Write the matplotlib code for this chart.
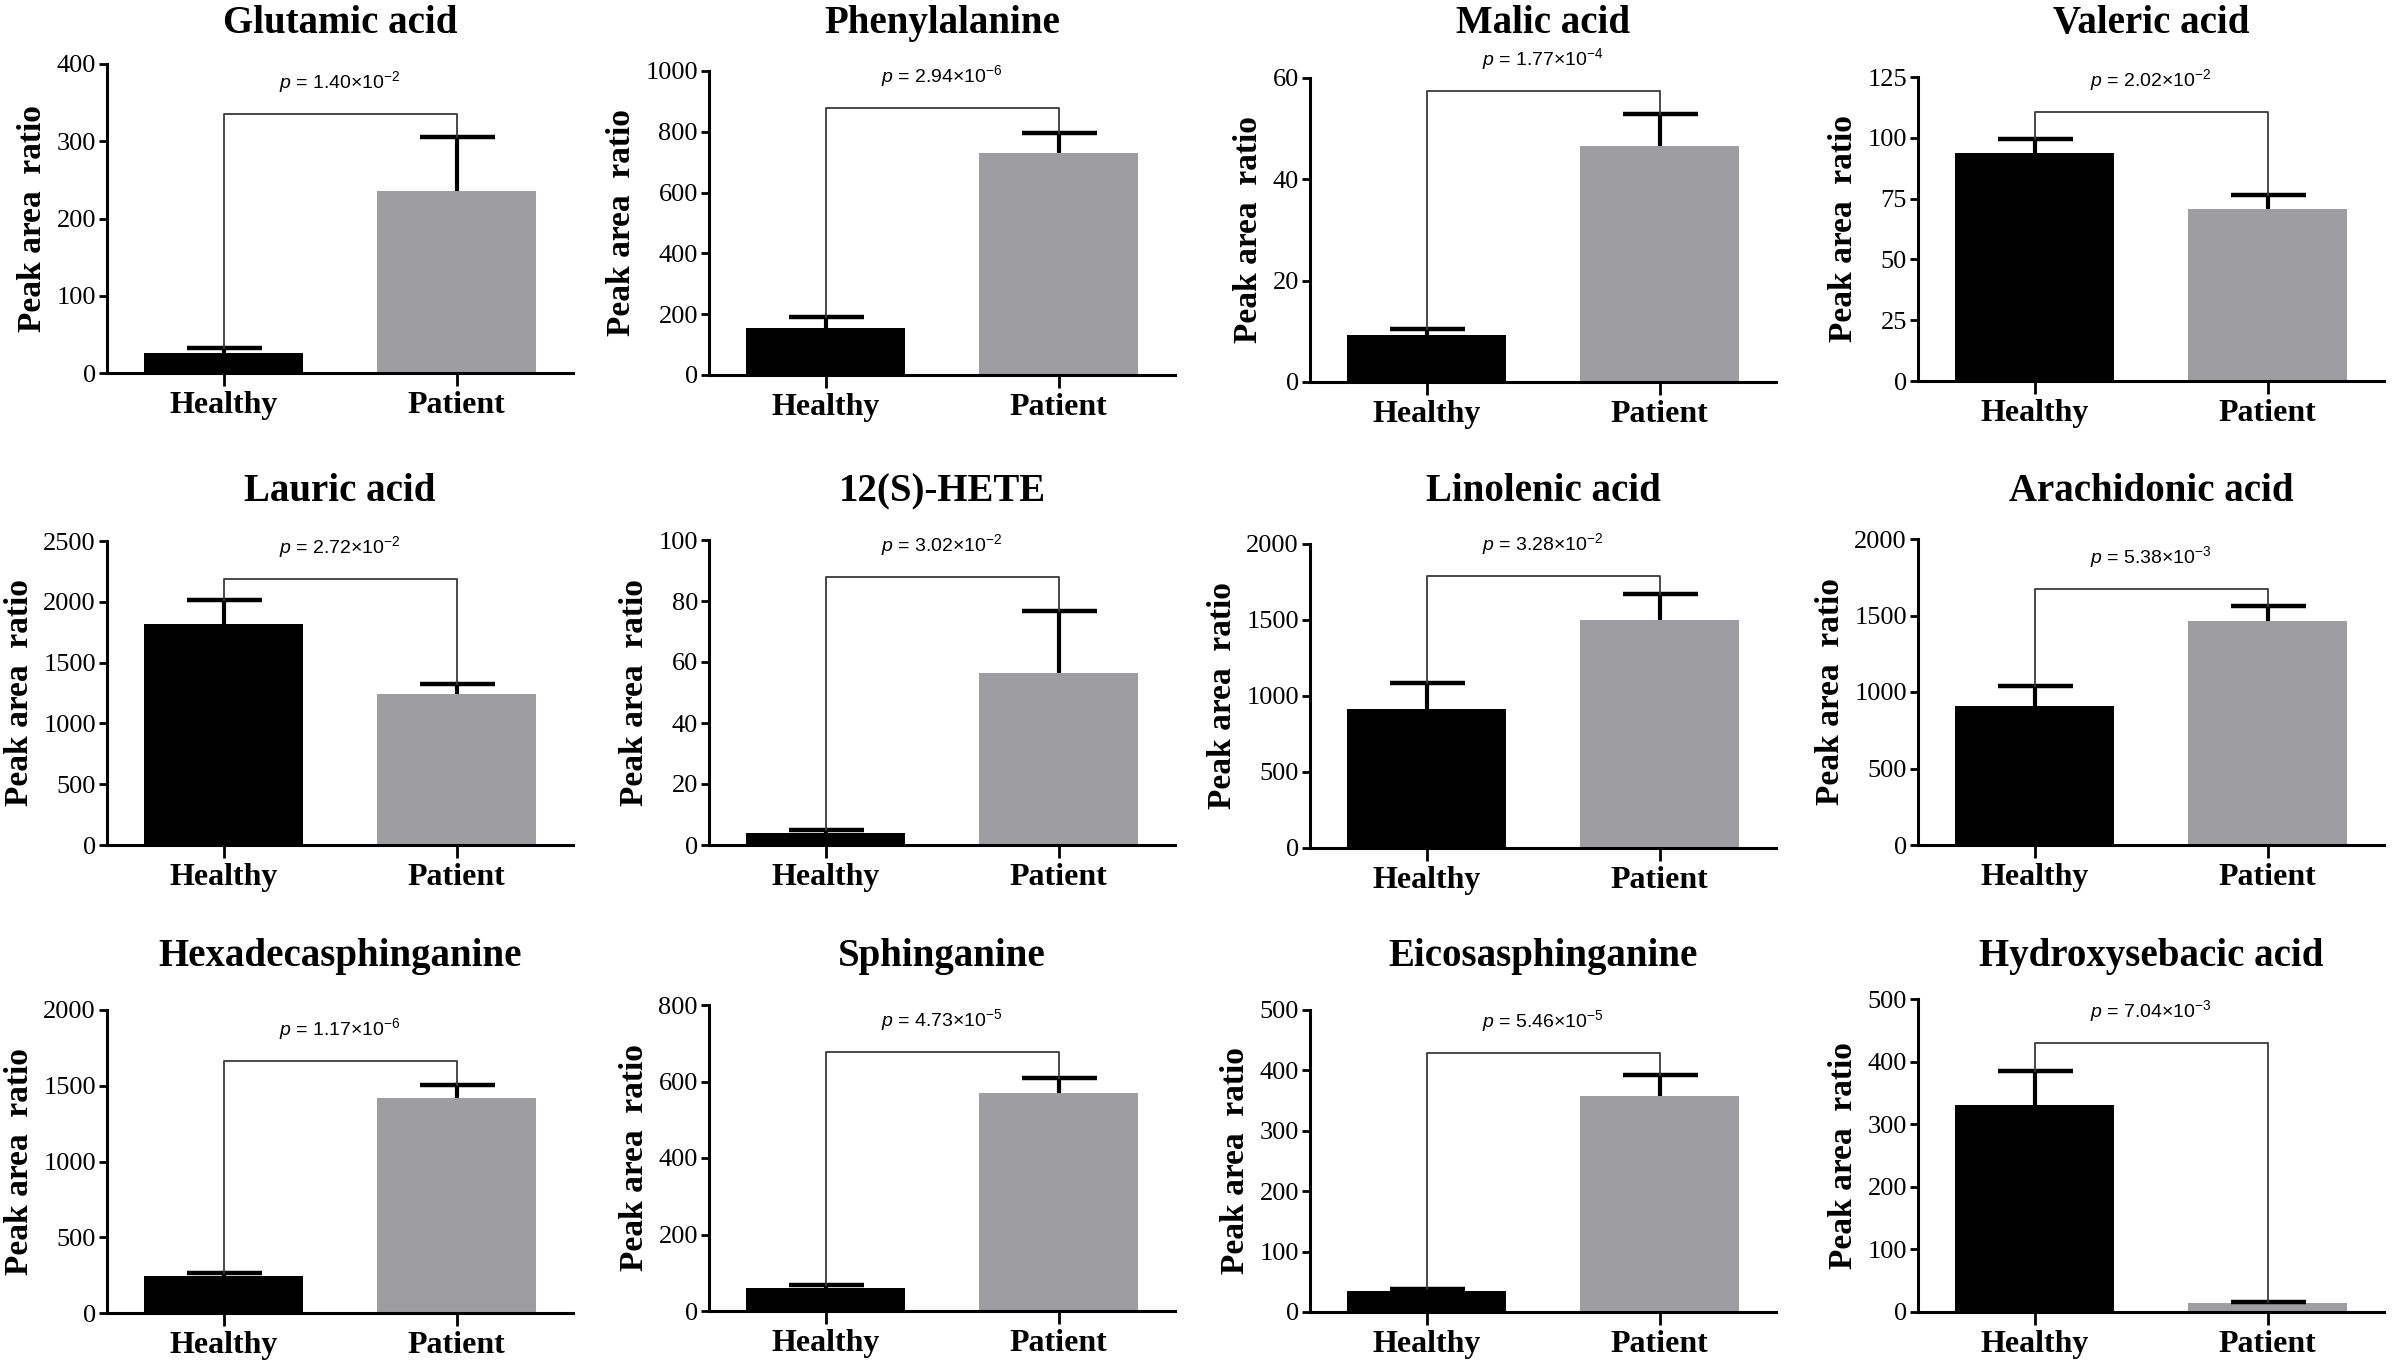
import matplotlib
matplotlib.use("Agg")
import matplotlib.pyplot as plt

plt.rcParams['font.family'] = ['Liberation Serif', 'DejaVu Serif']
plt.rcParams['mathtext.fontset'] = 'custom'
plt.rcParams['mathtext.rm'] = 'Liberation Sans'
plt.rcParams['mathtext.it'] = 'Liberation Sans:italic'

# values (mean and upper SEM)
compounds = ["Glutamic acid", "Phenylalanine", "Malic acid", "Valeric acid",
             "Lauric acid", "12(S)-HETE", "Linolenic acid", "Arachidonic acid",
             "Hexadecasphinganine", "Sphinganine", "Eicosasphinganine", "Hydroxysebacic acid"]
groups = ["Healthy", "Patient"]
healthy_mean = [26, 155, 9.2, 93.8, 1821, 3.8, 914, 909, 242, 61, 34.8, 331]
healthy_sem = [6, 37, 1.2, 5.9, 192, 1.1, 172, 131, 22, 7, 3.9, 54]
patient_mean = [236, 731, 46.6, 70.9, 1240, 56.5, 1502, 1467, 1417, 569, 357.5, 14.9]
patient_sem = [69, 66, 6.3, 5.5, 88, 20.3, 169, 92, 87, 41, 34.5, 1.6]
bracket_y = [335, 879, 57.4, 110.6, 2191, 87.8, 1791, 1675, 1663, 676, 428, 429]
p_mant = ["1.40", "2.94", "1.77", "2.02", "2.72", "3.02", "3.28", "5.38", "1.17", "4.73", "5.46", "7.04"]
p_exp = [-2, -6, -4, -2, -2, -2, -2, -3, -6, -5, -5, -3]
y_max = [400, 1000, 60, 125, 2500, 100, 2000, 2000, 2000, 800, 500, 500]
y_step = [100, 200, 20, 25, 500, 20, 500, 500, 500, 200, 100, 100]

W, H = 2395, 1367
fig = plt.figure(figsize=(W / 100, H / 100), dpi=100)

# axes boxes in pixels: left, top, bottom
lefts = [107, 709, 1310, 1918]
ax_w = 466
tops = [64, 71, 78, 77, 541, 540, 544, 539, 1010, 1005, 1010, 999]
bottoms = [373, 375, 382, 381, 845, 845, 848, 845, 1313, 1311, 1312, 1312]
title_base = [33, 501, 966]

for i, name in enumerate(compounds):
    row, col = divmod(i, 4)
    l = lefts[col]
    t, b = tops[i], bottoms[i]
    ax = fig.add_axes([l / W, 1 - b / H, ax_w / W, (b - t) / H])

    means = [healthy_mean[i], patient_mean[i]]
    sems = [healthy_sem[i], patient_sem[i]]
    ax.bar([0, 1], means, width=0.68, color=['black', '#9e9da2'], zorder=2)
    eb = ax.errorbar([0, 1], means, yerr=[[0, 0], sems], fmt='none', ecolor='black',
                     elinewidth=3, capsize=27, capthick=3.2, zorder=3)
    # only the upper cap is drawn in the original
    eb[1][0].set_visible(False)

    tops_err = [means[0] + sems[0], means[1] + sems[1]]
    bh = bracket_y[i]
    ax.plot([0, 0, 1, 1], [tops_err[0], bh, bh, tops_err[1]], color='#3a3a3a',
            lw=1.3, zorder=4, clip_on=False)
    ax.annotate(f'$p$ = {p_mant[i]}×10$^{{{p_exp[i]}}}$', xy=(0.5, bh),
                xytext=(0, 23), textcoords='offset points', ha='center', va='center',
                fontsize=14, family=['Liberation Sans', 'DejaVu Sans'],
                annotation_clip=False)

    ax.set_xlim(-0.5, 1.5)
    ax.set_ylim(0, y_max[i])
    ticks = list(range(0, y_max[i] + 1, y_step[i]))
    ax.set_yticks(ticks)
    ax.set_yticklabels([str(v) for v in ticks], fontsize=19)
    ax.set_xticks([0, 1])
    ax.set_xticklabels(groups, fontsize=23, fontweight='bold')
    ax.set_ylabel('Peak area  ratio', fontsize=24, fontweight='bold', labelpad=6)

    for s in ['top', 'right']:
        ax.spines[s].set_visible(False)
    for s in ['left', 'bottom']:
        ax.spines[s].set_linewidth(2.2)
    ax.tick_params(axis='y', length=6, width=2, pad=2)
    ax.tick_params(axis='x', length=9, width=2, pad=4)

    fig.text((l + ax_w / 2) / W, 1 - title_base[row] / H, name, ha='center',
             va='baseline', fontsize=28, fontweight='bold')

fig.savefig('out.png', dpi=100)
